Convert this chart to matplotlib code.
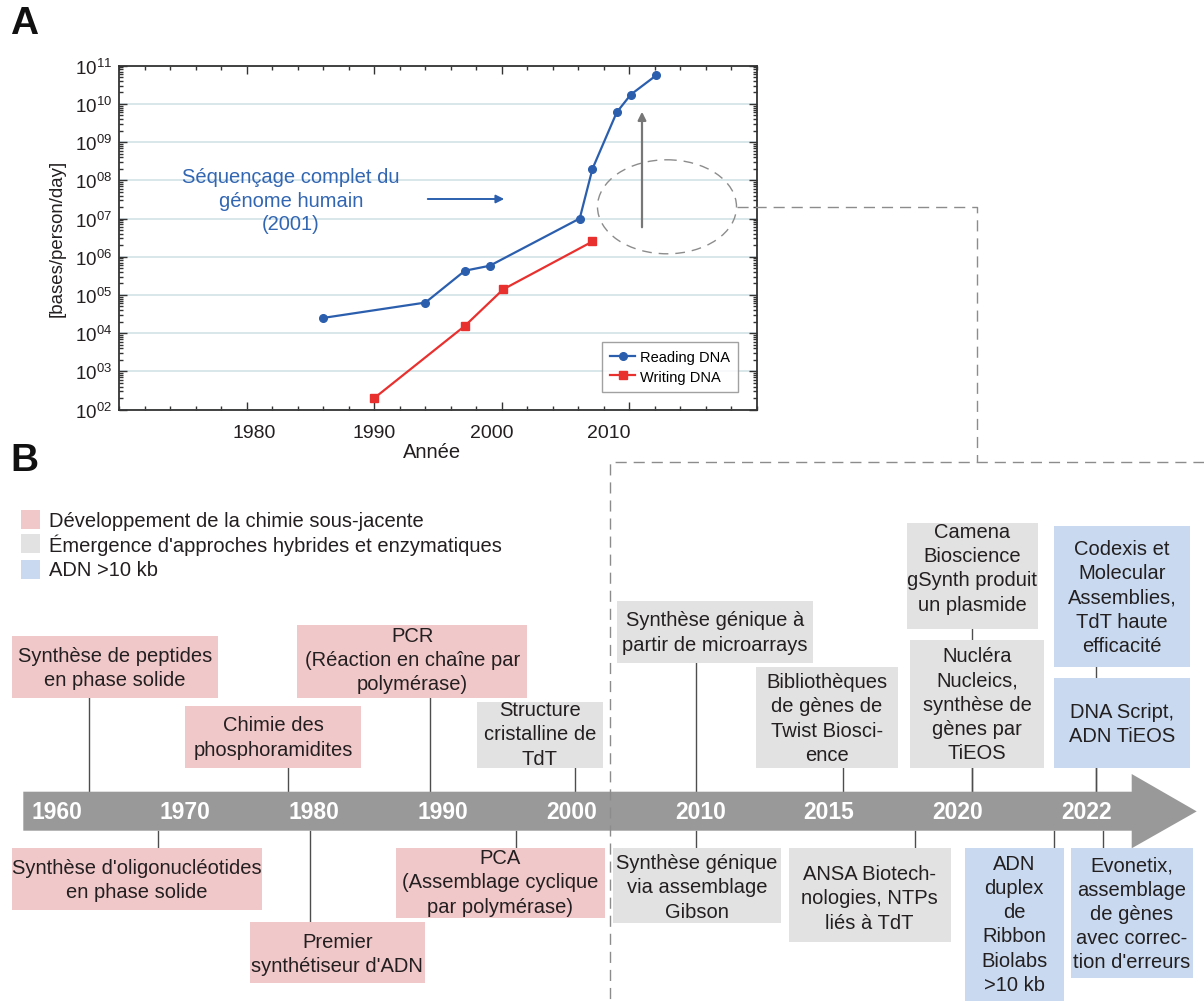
import numpy as np
import matplotlib
matplotlib.use("Agg")
import matplotlib.pyplot as plt
from matplotlib.patches import Ellipse, Rectangle, Polygon
from matplotlib.ticker import FixedLocator, LogLocator, MultipleLocator, NullFormatter

plt.rcParams["font.family"] = ["Liberation Sans", "DejaVu Sans"]
plt.rcParams["mathtext.fontset"] = "custom"
plt.rcParams["mathtext.rm"] = "Liberation Sans"
plt.rcParams["mathtext.it"] = "Liberation Sans:italic"

# --- panel A: reading / writing throughput ---
read_years = [1986.0, 1994.0, 1997.1, 1999.05, 2006.1, 2007.1, 2009.0, 2010.1, 2012.1]
read_vals = [2.5e4, 6.3e4, 4.3e5, 5.8e5, 1.0e7, 2.0e8, 6.0e9, 1.75e10, 5.6e10]
write_years = [1990.0, 1997.1, 2000.1, 2007.1]
write_vals = [2.0e2, 1.55e4, 1.4e5, 2.5e6]

year_labels = ["1980", "1990", "2000", "2010"]
year_label_pos = [1980.6, 1990.0, 1999.2, 2008.4]
decades = list(range(2, 12))

# --- panel B: timeline ---
tl_years = [1960, 1970, 1980, 1990, 2000, 2010, 2015, 2020, 2022]
tl_labels = [str(y) for y in tl_years]

legend_kinds = ["chem", "hybrid", "long"]
legend_texts = [
    "Développement de la chimie sous-jacente",
    "Émergence d'approches hybrides et enzymatiques",
    "ADN >10 kb",
]

event_texts = [
    "Synthèse de peptides\nen phase solide",
    "Chimie des\nphosphoramidites",
    "PCR\n(Réaction en chaîne par\npolymérase)",
    "Structure\ncristalline de\nTdT",
    "Synthèse génique à\npartir de microarrays",
    "Bibliothèques\nde gènes de\nTwist Biosci-\nence",
    "Nucléra\nNucleics,\nsynthèse de\ngènes par\nTiEOS",
    "Camena\nBioscience\ngSynth produit\nun plasmide",
    "DNA Script,\nADN TiEOS",
    "Codexis et\nMolecular\nAssemblies,\nTdT haute\nefficacité",
    "Synthèse d'oligonucléotides\nen phase solide",
    "Premier\nsynthétiseur d'ADN",
    "PCA\n(Assemblage cyclique\npar polymérase)",
    "Synthèse génique\nvia assemblage\nGibson",
    "ANSA Biotech-\nnologies, NTPs\nliés à TdT",
    "ADN\nduplex\nde\nRibbon\nBiolabs\n>10 kb",
    "Evonetix,\nassemblage\nde gènes\navec correc-\ntion d'erreurs",
]
event_years = [1962.5, 1977.95, 1989.0, 2000.3, 2009.7, 2015.55, 2020.22, 2020.22,
               2022.15, 2022.15, 1967.9, 1979.65, 1995.7, 2009.7, 2018.35, 2021.5, 2022.26]
event_kind = ["chem", "chem", "chem", "hybrid", "hybrid", "hybrid", "hybrid", "hybrid",
              "long", "long", "chem", "chem", "chem", "hybrid", "hybrid", "long", "long"]
event_above = [True] * 10 + [False] * 7

# box layout in figure pixels: left, top, right, bottom, text centre y
box_layout = [
    (11.9, 637, 217.5, 698.7, 668.4),
    (185, 707, 361, 768.7, 738),
    (297.4, 626, 527.1, 698.7, 660.4),
    (476.9, 703.3, 602.6, 768.7, 735),
    (617.3, 602, 812.6, 664, 633),
    (756, 668.3, 897.8, 768.7, 719),
    (910, 640.7, 1044, 768.7, 705.3),
    (906.6, 524, 1037.6, 630, 568.7),
    (1053.8, 679, 1190, 768.7, 724.5),
    (1053.8, 527.3, 1190, 667.7, 598),
    (11.9, 849.3, 262.2, 910.7, 880.7),
    (249.5, 923.3, 425, 984.3, 954.7),
    (395.8, 849.3, 605, 919.3, 883),
    (612.7, 849.3, 781, 924.3, 888),
    (788.8, 849.3, 950.5, 942.7, 899),
    (964.5, 849.3, 1064.2, 1001.7, 924.7),
    (1070.5, 849.3, 1193, 979, 914.3),
]

kind_colors = {"chem": "#f1c8c9", "hybrid": "#e2e2e2", "long": "#c9daf0"}
blue = "#2b5fae"
red = "#e8312f"
text_col = "#231f20"

W, H = 1204, 1003
fig = plt.figure(figsize=(W / 100, H / 100), dpi=100)

# ---------- panel A ----------
ax = fig.add_axes([119.3 / W, 1 - 410.5 / H, 637.7 / W, 343.8 / H])
ax.set_yscale("log")
ax.set_xlim(1970, 2020)
ax.set_ylim(1e2, 1e11)

ax.plot(read_years, read_vals, color=blue, lw=1.6, marker="o", ms=5.5, label="Reading DNA", zorder=4)
ax.plot(write_years, write_vals, color=red, lw=1.6, marker="s", ms=5.5, label="Writing DNA", zorder=4)

ax.yaxis.set_major_locator(FixedLocator([10.0 ** e for e in decades]))
ax.set_yticklabels([f"$10^{{{e:02d}}}$" for e in decades], fontsize=13.5, color=text_col)
ax.yaxis.set_minor_locator(LogLocator(base=10, subs=np.arange(2, 10), numticks=20))
ax.yaxis.set_minor_formatter(NullFormatter())
ax.xaxis.set_major_locator(FixedLocator([1980, 1990, 2000, 2010]))
ax.xaxis.set_minor_locator(MultipleLocator(2))
ax.set_xticklabels([])
ax.tick_params(which="both", direction="in", top=True, right=True, color="#333333", width=1)
ax.tick_params(which="major", length=6, pad=5)
ax.tick_params(which="minor", length=3)
ax.grid(True, axis="y", which="major", color="#d2e2e6", lw=1.2)
ax.set_axisbelow(True)
for s in ax.spines.values():
    s.set_color("#333333")
    s.set_linewidth(1.3)

xt = ax.get_xaxis_transform()
for lab, pos in zip(year_labels, year_label_pos):
    ax.text(pos, -0.066, lab, transform=xt, ha="center", va="center", fontsize=14, color=text_col)
ax.text(0.49, -0.123, "Année", transform=ax.transAxes, ha="center", va="center", fontsize=14.5, color=text_col)
fig.text(57 / W, 1 - 238.5 / H, "[bases/person/day]", rotation=90, ha="center", va="center",
         fontsize=13.4, color=text_col)

leg = ax.legend(loc="lower right", bbox_to_anchor=(0.9707, 0.05), borderaxespad=0, fontsize=10.5,
                frameon=True, fancybox=False, edgecolor="#8a8a8a", handlelength=1.7,
                handletextpad=0.3, labelspacing=0.35, borderpad=0.6)
leg.get_frame().set_linewidth(1.0)

# ---------- panel B timeline axes (x in label slots, y in pixels) ----------
axb = fig.add_axes([0, 0, 1, 1])
axb.set_xlim(-56.7 / 128.7, (W - 56.7) / 128.7)
axb.set_ylim(H, 0)
axb.set_axis_off()
axb.patch.set_alpha(0)

tl_pos = np.arange(len(tl_years), dtype=float)


def to_slot(year):
    year = np.atleast_1d(np.asarray(year, dtype=float))
    s = np.interp(year, tl_years, tl_pos)
    over = year > tl_years[-1]
    s[over] = tl_pos[-1] + (year[over] - tl_years[-1]) / (tl_years[-1] - tl_years[-2])
    return s


bar_top, bar_bot = 792.7, 831.7
ev_x = to_slot(event_years)
for x, above, (l, t, r, b, ty) in zip(ev_x, event_above, box_layout):
    if above:
        axb.plot([x, x], [bar_top, b], color="#4d4d4d", lw=1.0, zorder=1)
    else:
        axb.plot([x, x], [bar_bot, t], color="#4d4d4d", lw=1.0, zorder=1)

for i, lab in enumerate(tl_labels):
    axb.text(tl_pos[i], 813, lab, ha="center", va="center", color="white", fontsize=16.5,
             fontweight="bold", zorder=5)

# ---------- overlay in figure pixels ----------
ov = fig.add_axes([0, 0, 1, 1])
ov.set_xlim(0, W)
ov.set_ylim(H, 0)
ov.set_axis_off()
ov.patch.set_alpha(0)

arrow_shape = [(23.3, bar_top), (1131.7, bar_top), (1131.7, 775), (1196.7, 812.4),
               (1131.7, 849.3), (1131.7, bar_bot), (23.3, bar_bot)]
axb.add_patch(Polygon(arrow_shape, closed=True, facecolor="#999999", edgecolor="none", zorder=3,
                      transform=ov.transData))

for txt, kind, (l, t, r, b, ty) in zip(event_texts, event_kind, box_layout):
    ov.add_patch(Rectangle((l, t), r - l, b - t, facecolor=kind_colors[kind], edgecolor="none", zorder=2))
    ov.text((l + r) / 2, ty, txt, ha="center", va="center", fontsize=14.5, color=text_col,
            linespacing=1.35, zorder=3)

# legend of panel B
for kind, txt, yc in zip(legend_kinds, legend_texts, [520.5, 544.2, 570]):
    ov.add_patch(Rectangle((20.6, yc - 9.5), 19, 19, facecolor=kind_colors[kind], edgecolor="none"))
    ov.text(49.4, yc + 1, txt, ha="left", va="center", fontsize=14.5, color=text_col)

# panel labels
ov.text(24, 24, "A", ha="center", va="center", fontsize=28, fontweight="bold", color="#111111")
ov.text(24, 461, "B", ha="center", va="center", fontsize=28, fontweight="bold", color="#111111")

# genome annotation
ov.text(291, 201, "Séquençage complet du\ngénome humain\n(2001)", ha="center", va="center",
        fontsize=14.5, color="#3266b2", linespacing=1.3)
ov.annotate("", xy=(507, 200), xytext=(425, 200),
            arrowprops=dict(arrowstyle="-|>", color=blue, lw=1.4, mutation_scale=12))
ov.annotate("", xy=(642, 110), xytext=(642, 231),
            arrowprops=dict(arrowstyle="-|>", color="#777777", lw=1.6, mutation_scale=12))
ov.add_patch(Ellipse((667, 207.8), 139, 94, fill=False, edgecolor="#8c8c8c", lw=1.0,
                     linestyle=(0, (7, 5))))

# dashed connector from panel A into panel B
dash = dict(color="#8c8c8c", lw=1.0, linestyle=(0, (8, 5)))
ov.plot([736.7, 976.7, 976.7], [207.7, 207.7, 463.3], **dash)
ov.plot([W, 610, 610], [463.3, 463.3, H], **dash)

fig.savefig("out.png", dpi=100)
